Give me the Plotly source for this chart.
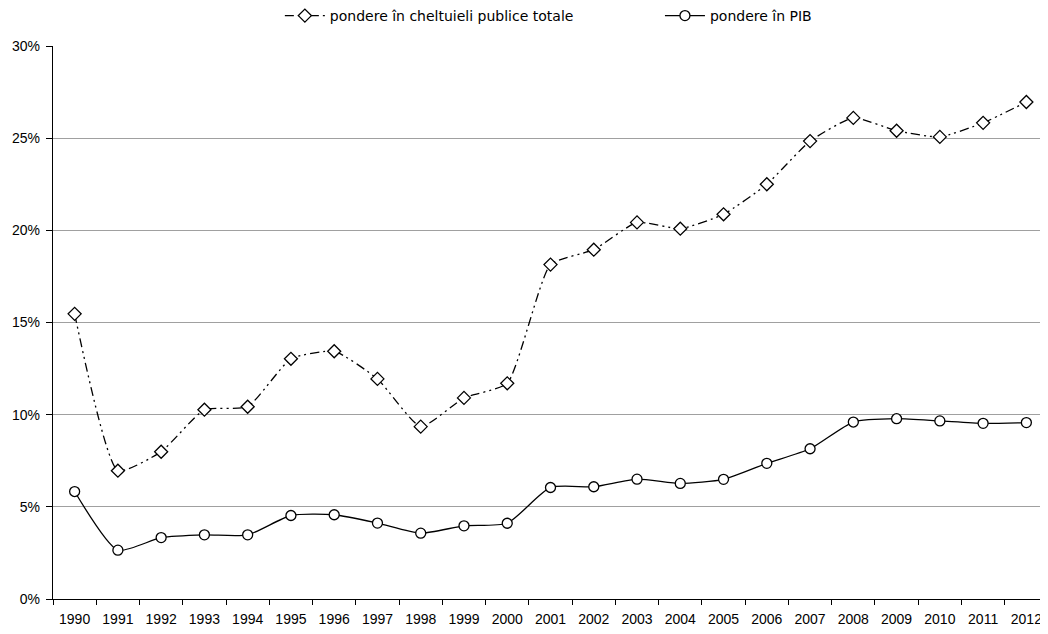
import plotly.graph_objects as go

years = [str(y) for y in range(1990, 2013)]
cheltuieli = [15.47, 6.96, 7.99, 10.27, 10.43, 13.03, 13.44, 11.94, 9.35, 10.91, 11.70,
              18.14, 18.95, 20.43, 20.09, 20.87, 22.50, 24.84, 26.10, 25.40, 25.07, 25.83, 26.96]
pib = [5.83, 2.65, 3.33, 3.48, 3.48, 4.53, 4.57, 4.12, 3.57, 3.97, 4.11,
       6.05, 6.09, 6.50, 6.27, 6.49, 7.36, 8.15, 9.60, 9.78, 9.66, 9.53, 9.57]
y_ticks = [0, 5, 10, 15, 20, 25, 30]
y_labels = [f"{v}%" for v in y_ticks]

fig = go.Figure()
fig.add_trace(go.Scatter(
    x=years, y=cheltuieli, name="pondere în cheltuieli publice totale",
    mode="lines+markers", legend="legend",
    line=dict(color="black", width=1.3, dash="9px,4px,2px,4px,2px,4px", shape="spline", smoothing=0.5),
    marker=dict(symbol="diamond", size=10, color="white", line=dict(color="black", width=1.3)),
))
fig.add_trace(go.Scatter(
    x=years, y=pib, name="pondere în PIB",
    mode="lines+markers", legend="legend2",
    line=dict(color="black", width=1.3, shape="spline", smoothing=0.6),
    marker=dict(symbol="circle", size=10, color="white", line=dict(color="black", width=1.3)),
))

legend_common = dict(orientation="h", yref="container", y=1 - 8 / 626, yanchor="middle",
                     xanchor="left", font=dict(family="DejaVu Sans", size=14, color="black"),
                     itemwidth=40, bgcolor="rgba(0,0,0,0)")

fig.update_layout(
    width=1040, height=626,
    margin=dict(l=45, r=0, t=38, b=35, autoexpand=False),
    paper_bgcolor="white", plot_bgcolor="white",
    showlegend=True,
    legend=dict(x=0.228, **legend_common),
    legend2=dict(x=0.610, **legend_common),
    font=dict(family="Liberation Sans", color="black"),
)
fig.update_xaxes(
    type="category", range=[-0.5, 22.5],
    showline=True, linecolor="black", linewidth=1.3,
    ticks="outside", tickson="boundaries", ticklen=5, tickcolor="black", tickwidth=1,
    showgrid=False, tickfont=dict(family="Liberation Sans", size=14, color="black"),
    ticklabelstandoff=7,
    fixedrange=True,
)
fig.update_yaxes(
    range=[0, 30], tickvals=y_ticks, ticktext=y_labels,
    showline=True, linecolor="black", linewidth=1.3,
    ticks="outside", ticklen=6, tickcolor="black", tickwidth=1,
    showgrid=True, gridcolor="#a0a0a0", gridwidth=1.3,
    zeroline=False, ticklabelstandoff=3,
    tickfont=dict(family="Liberation Sans", size=14, color="black"),
    fixedrange=True,
)
fig.write_html("out.html")
